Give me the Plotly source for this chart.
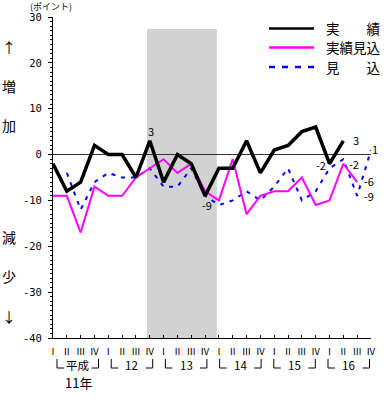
import plotly.graph_objects as go

# ---------------- data ----------------
quarter_labels = ["Ⅰ", "Ⅱ", "Ⅲ", "Ⅳ"] * 6
year_labels = ["平成", "12", "13", "14", "15", "16"]
jisseki = [-2, -8, -6, 2, 0, 0, -5, 3, -6, 0, -2, -9, -3, -3, 3, -4, 1, 2, 5, 6, -2, 3, None, None]
jisseki_mikomi = [-9, -9, -17, -7, -9, -9, -5, -3, -1, -4, -2, -8, -10, -1, -13, -9, -8, -8, -5, -11, -10, -2, -6, None]
mikomi = [None, -4, -12, -6, -4, -5, -5, -3, -7, -7, -3, -9, -11, -10, -8, -10, -7, -3, -10, -8, -3, -1, -9, 1]
y_tickvals = [30, 20, 10, 0, -10, -20, -30, -40]
y_ticktext = ["30", "20", "10", "0", "-10", "-20", "-30", "-40"]
recession_x = (6.8, 11.85)
recession_top = 27.4

x = list(range(len(quarter_labels)))

# ---------------- layout helpers (pixel -> paper) ----------------
W, H = 387, 398
L, R, T, B = 53, 16, 17, 60
PW, PH = W - L - R, H - T - B


def fx(px):
    return (px - L) / PW


def fy(py):
    return (H - B - py) / PH


JP = "Noto Sans CJK JP"

fig = go.Figure()

fig.add_trace(go.Scatter(x=x, y=mikomi, mode="lines", name="見込",
                         line=dict(color="#0000FF", width=2, dash="4px,6px"),
                         connectgaps=False))
fig.add_trace(go.Scatter(x=x, y=jisseki_mikomi, mode="lines", name="実績見込",
                         line=dict(color="#FF00FF", width=2)))
fig.add_trace(go.Scatter(x=x, y=jisseki, mode="lines", name="実績",
                         line=dict(color="#000000", width=3.5)))

shapes = []
# recession shading
shapes.append(dict(type="rect", xref="x", yref="y", x0=recession_x[0], x1=recession_x[1],
                   y0=-40, y1=recession_top, fillcolor="#d2d2d2", line=dict(width=0),
                   layer="below"))

annotations = []

# data labels
def lab(series, i, text, xs, ys):
    annotations.append(dict(x=i, y=series[i], xref="x", yref="y", text=text, showarrow=False,
                            xshift=xs, yshift=ys, font=dict(family=JP, size=11, color="#000")))

lab(jisseki, 7, "3", 1, 10)
lab(jisseki, 11, "-9", 2, -9)
lab(jisseki, 20, "-2", -9, -1)
lab(jisseki, 21, "3", 13, 1)
lab(jisseki_mikomi, 21, "-2", 11, 0)
lab(jisseki_mikomi, 22, "-6", 12, 1)
lab(mikomi, 22, "-9", 12, 0)
lab(mikomi, 23, "1", 4, 1)

# legend
leg = [("実　　績", "#000000", "solid", 28.5, 2.5), ("実績見込", "#FF00FF", "solid", 47.5, 2.5),
       ("見　　込", "#0000FF", "6px,7px", 67, 2.5)]
for txt, col, dash, py, lw in leg:
    shapes.append(dict(type="line", xref="paper", yref="paper", x0=fx(269), x1=fx(314),
                       y0=fy(py), y1=fy(py), line=dict(color=col, width=lw, dash=dash)))
    annotations.append(dict(x=fx(324), y=fy(py), xref="paper", yref="paper", text=txt,
                            showarrow=False, xanchor="left", yanchor="middle",
                            font=dict(family=JP, size=13.5, color="#000")))

# left side vertical text
for ch, py in [("↑", 47), ("増", 86), ("加", 125), ("減", 237), ("少", 276), ("↓", 316)]:
    annotations.append(dict(x=fx(9), y=fy(py), xref="paper", yref="paper", text=ch,
                            showarrow=False, xanchor="center", yanchor="middle",
                            font=dict(family=JP, size=14, color="#000")))

# unit label
annotations.append(dict(x=fx(51), y=fy(6.5), xref="paper", yref="paper", text="(ポイント)",
                        showarrow=False, xanchor="center", yanchor="middle",
                        font=dict(family=JP, size=9, color="#000")))

# year brackets
for k, ytxt in enumerate(year_labels):
    left = 57 + 54.2 * k
    right = left + 41.5
    top, bot = 359, 368
    shapes.append(dict(type="path", xref="paper", yref="paper",
                       path=f"M {fx(left)} {fy(top)} L {fx(left)} {fy(bot)} L {fx(left + 7)} {fy(bot)}",
                       line=dict(color="#000", width=1)))
    shapes.append(dict(type="path", xref="paper", yref="paper",
                       path=f"M {fx(right - 7)} {fy(bot)} L {fx(right)} {fy(bot)} L {fx(right)} {fy(top)}",
                       line=dict(color="#000", width=1)))
    annotations.append(dict(x=fx((left + right) / 2), y=fy(365), xref="paper", yref="paper",
                            text=ytxt, showarrow=False, xanchor="center", yanchor="middle",
                            font=dict(family=JP, size=11.5, color="#000")))
annotations.append(dict(x=fx(78), y=fy(383), xref="paper", yref="paper", text="11年",
                        showarrow=False, xanchor="center", yanchor="middle",
                        font=dict(family=JP, size=13, color="#000")))

fig.update_layout(
    width=W, height=H, margin=dict(l=L, r=R, t=T, b=B, autoexpand=False),
    paper_bgcolor="white", plot_bgcolor="white", showlegend=False,
    shapes=shapes, annotations=annotations,
    xaxis=dict(range=[0, len(x) - 1], tickvals=x, ticktext=quarter_labels,
               showgrid=False, zeroline=False, showline=True, linecolor="#000", linewidth=1,
               ticks="inside", ticklen=3, tickcolor="#000",
               tickfont=dict(family=JP, size=9.5, color="#000"), ticklabelstandoff=5),
    yaxis=dict(range=[-40, 30], tickvals=y_tickvals, ticktext=y_ticktext,
               showgrid=False, zeroline=True, zerolinecolor="#333", zerolinewidth=1,
               showline=True, linecolor="#000", linewidth=1,
               ticks="outside", ticklen=4, tickcolor="#000",
               minor=dict(dtick=1, ticks="outside", ticklen=2, tickcolor="#000"),
               tickfont=dict(family="DejaVu Sans Mono", size=10.5, color="#000"),
               ticklabelstandoff=4),
)

fig.write_html("out.html", config={"displayModeBar": False},
               post_script="document.body.style.margin='0';document.body.style.overflow='hidden';")
